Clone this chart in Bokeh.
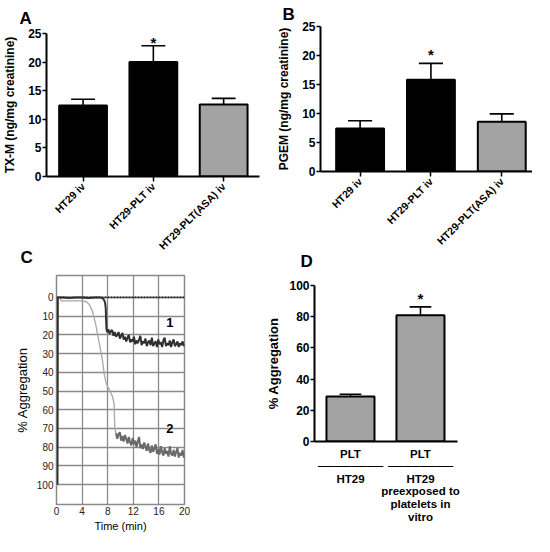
import math
from bokeh.plotting import figure
from bokeh.layouts import column, row
from bokeh.models import Range1d, FixedTicker
from bokeh.core.properties import value
from bokeh.embed import file_html
from bokeh.resources import INLINE

FONT = "Liberation Sans"

# ---------------- data ----------------
ab_categories = ["HT29 iv", "HT29-PLT iv", "HT29-PLT(ASA) iv"]
ab_colors = ["black", "black", "#a3a3a3"]

a_values = [12.4, 20.0, 12.6]          # TX-M, ng/mg creatinine
a_upper = [13.5, 22.85, 13.65]         # top of SEM bar
a_ticks = [0, 5, 10, 15, 20, 25]

b_values = [7.43, 15.84, 8.58]         # PGEM, ng/mg creatinine
b_upper = [8.76, 18.65, 9.93]
b_ticks = [0, 5, 10, 15, 20, 25]

d_values = [28.8, 81.0]                # % aggregation
d_upper = [30.3, 86.3]
d_categories = ["PLT\n────────\nHT29",
                "PLT\n────────\nHT29\npreexposed to\nplatelets in\nvitro"]
d_ticks = [0, 20, 40, 60, 80, 100]

# aggregation traces (panel C): time in min, % aggregation
c_base_t = [0, 20]
c_base_y = [0, 0]

c1_lead_t = [0.15, 0.2, 1.0, 2.0, 3.0, 4.0, 5.0, 6.0, 6.8, 7.2, 7.45, 7.6, 7.7, 7.75, 7.8]
c1_lead_y = [100, 0, 0, 0.3, 0, 0, 0.3, 0, 0, 0.5, 1.5, 3, 6, 12, 16.5]
c1_noise_t = [7.9, 8.1, 8.3, 8.5, 8.7, 8.9, 9.1, 9.3, 9.5, 9.7,
              9.9, 10.1, 10.3, 10.5, 10.7, 10.9, 11.1, 11.3, 11.5, 11.7,
              11.9, 12.1, 12.3, 12.5, 12.7, 12.9, 13.1, 13.3, 13.5, 13.7,
              13.9, 14.1, 14.3, 14.5, 14.7, 14.9, 15.1, 15.3, 15.5, 15.7,
              15.9, 16.1, 16.3, 16.5, 16.7, 16.9, 17.1, 17.3, 17.5, 17.7,
              17.9, 18.1, 18.3, 18.5, 18.7, 18.9, 19.1, 19.3, 19.5, 19.7,
              19.9, 20.0]
c1_noise_y = [18.5, 17.0, 19.5, 18.0, 17.5, 20.5, 18.5, 21.0, 20.0, 18.5,
              22.0, 20.5, 19.0, 22.5, 21.0, 23.5, 21.5, 20.0, 24.0, 22.5,
              23.5, 21.0, 25.0, 23.0, 24.5, 22.5, 20.5, 25.5, 23.5, 24.5,
              22.0, 26.0, 24.0, 23.0, 25.5, 21.5, 26.0, 24.5, 23.5, 26.5,
              22.5, 25.0, 24.0, 26.5, 23.0, 21.5, 26.0, 24.5, 25.5, 23.0,
              26.5, 24.0, 22.5, 26.0, 25.0, 23.5, 26.5, 24.5, 25.5, 23.5,
              26.0, 25.0]

c2a_t = [0.15, 0.22, 0.6, 0.7, 2.0, 3.0, 4.0, 4.6, 5.1, 5.6, 6.1, 6.6, 7.0, 7.2, 7.45, 7.7,
         7.97, 8.3, 8.5, 8.7, 8.86, 9.0, 9.05, 9.1, 9.25, 9.3]
c2a_y = [100, 0, 0, 1.8, 1.8, 1.8, 1.8, 2.2, 3.6, 7.2, 14.0, 23.0, 30.0, 34.0, 41.0, 45.0,
         47.5, 49.5, 51.0, 52.5, 54.5, 57.0, 63.0, 69.5, 72.5, 72.5]

c2b_t = [9.3, 9.5, 9.7, 9.9, 10.1, 10.3, 10.5, 10.7, 10.9, 11.1,
         11.3, 11.5, 11.7, 11.9, 12.1, 12.3, 12.5, 12.7, 12.9, 13.1,
         13.3, 13.5, 13.7, 13.9, 14.1, 14.3, 14.5, 14.7, 14.9, 15.1,
         15.3, 15.5, 15.7, 15.9, 16.1, 16.3, 16.5, 16.7, 16.9, 17.1,
         17.3, 17.5, 17.7, 17.9, 18.1, 18.3, 18.5, 18.7, 18.9, 19.1,
         19.3, 19.5, 19.7, 19.9, 20.0]
c2b_y = [72.5, 75.5, 73.0, 72.0, 76.5, 74.0, 77.0, 73.5, 75.5, 78.0,
         74.5, 77.5, 79.0, 75.0, 78.5, 76.5, 80.0, 77.0, 74.5, 80.5,
         78.5, 81.0, 77.5, 79.5, 82.0, 78.0, 81.5, 83.0, 79.0, 82.5,
         80.5, 78.5, 83.5, 81.0, 84.0, 79.5, 82.5, 84.5, 80.5, 83.5,
         82.0, 85.0, 79.5, 83.5, 84.5, 81.5, 85.0, 82.5, 80.5, 85.5,
         83.0, 84.5, 81.5, 85.5, 84.0]
c_trace_labels = ["1", "2"]
c_trace_label_t = [17.7, 17.7]
c_trace_label_y = [13.2, 70.2]
c_xticks = [0, 4, 8, 12, 16, 20]
c_yticks = [0, 10, 20, 30, 40, 50, 60, 70, 80, 90, 100]


def style_text(axis, size, bold=True):
    axis.major_label_text_font = FONT
    axis.major_label_text_font_size = size
    axis.major_label_text_font_style = "bold" if bold else "normal"
    axis.major_label_text_color = "black"
    axis.axis_label_text_font = FONT
    axis.axis_label_text_font_style = "bold" if bold else "normal"
    axis.axis_label_text_color = "black"


def base_fig(width, height, left, right, top, bottom, xr, yr):
    p = figure(width=width, height=height, x_range=xr, y_range=yr,
               output_backend="svg", toolbar_location=None,
               min_border_left=left, min_border_right=right,
               min_border_top=top, min_border_bottom=bottom)
    p.frame_align = False
    p.background_fill_color = "white"
    p.border_fill_color = None
    return p


def panel_letter(p, text, offset, standoff):
    p.title.text = text
    p.title.align = "left"
    p.title.offset = offset
    p.title.standoff = standoff
    p.title.text_font = FONT
    p.title.text_font_size = "17px"
    p.title.text_font_style = "bold"
    p.title.text_color = "black"


def bar_panel(width, height, left, right, top, bottom, xr, ymax, values, upper, ticks,
              ylabel, bar_w, cap_w, star_off):
    p = base_fig(width, height, left, right, top, bottom, Range1d(*xr), Range1d(0, ymax))
    xs = list(range(len(values)))
    p.vbar(x=xs, top=values, width=bar_w, fill_color=ab_colors, line_color="black",
           line_width=2)
    p.segment(x0=xs, y0=values, x1=xs, y1=upper, line_color="black", line_width=1.6)
    p.segment(x0=[x - cap_w for x in xs], y0=upper, x1=[x + cap_w for x in xs], y1=upper,
              line_color="black", line_width=1.6)
    p.text(x=[1], y=[upper[1] + star_off], text=["*"], text_font=value(FONT),
           text_font_style="bold", text_font_size="15px", text_align="center",
           text_baseline="middle", text_color="black")
    p.xgrid.visible = False
    p.ygrid.visible = False
    p.outline_line_color = None
    p.xaxis.ticker = FixedTicker(ticks=xs)
    p.xaxis.major_label_overrides = {i: c for i, c in enumerate(ab_categories)}
    p.xaxis.major_label_orientation = math.pi / 4
    p.xaxis.major_tick_out = 5
    p.xaxis.major_tick_in = 0
    p.xaxis.major_tick_line_width = 1.5
    p.xaxis.axis_line_width = 2
    p.xaxis.major_label_standoff = 3
    style_text(p.xaxis, "10.5px")
    p.yaxis.ticker = FixedTicker(ticks=ticks)
    p.yaxis.major_tick_out = 4
    p.yaxis.major_tick_in = 0
    p.yaxis.major_tick_line_width = 1.5
    p.yaxis.axis_line_width = 2
    p.yaxis.major_label_standoff = 1
    p.yaxis.axis_label = ylabel
    p.yaxis.axis_label_standoff = 8
    style_text(p.yaxis, "12px")
    p.yaxis.axis_label_text_font_size = "12px"
    return p


# ---------------- panel A ----------------
# frame: page x 49..267, y 41..184 ; bar centres 72 px apart
pA = bar_panel(274, 270, 41, 15, 33, 94, (-0.52, 2.51), 25, a_values, a_upper, a_ticks,
               "TX-M (ng/mg creatinine)", 0.68, 0.17, 0.55)
panel_letter(pA, "A", -27, 12)

# ---------------- panel B ----------------
# frame: page x 323..540, y 34..179 ; bar centres 72.5 px apart
pB = bar_panel(258, 270, 41, 0, 26, 99, (-0.559, 2.434), 25, b_values, b_upper, b_ticks,
               "PGEM (ng/mg creatinine)", 0.676, 0.17, 1.55)
panel_letter(pB, "B", -38, 5)

# ---------------- panel C ----------------
# bottom row starts at page y 236; frame: page x 64..192, y 283..513
pC = base_fig(262, 306, 56, 78, 47, 29, Range1d(0, 20), Range1d(110.6, -11.7))
panel_letter(pC, "C", -36, 17)
pC.xgrid.ticker = FixedTicker(ticks=c_xticks)
pC.ygrid.ticker = FixedTicker(ticks=c_yticks)
for g in (pC.xgrid, pC.ygrid):
    g.grid_line_color = "#8a8a8a"
    g.grid_line_width = 1.3
    g.grid_line_alpha = 1
pC.outline_line_color = "#8a8a8a"
pC.outline_line_width = 1.5
pC.line(c_base_t, c_base_y, line_color="#222222", line_width=1.6, line_dash="2 1")
pC.line(c2a_t, c2a_y, line_color="#a8a8a8", line_width=1.3)
pC.line(c2b_t, c2b_y, line_color="#6a6a6a", line_width=2.0)
pC.line(c1_lead_t + c1_noise_t, c1_lead_y + c1_noise_y, line_color="#303030", line_width=2.0)
pC.text(x=c_trace_label_t, y=c_trace_label_y, text=c_trace_labels, text_font=value(FONT),
        text_font_style="bold", text_font_size="13px", text_align="center",
        text_baseline="middle", text_color="black")
pC.xaxis.ticker = FixedTicker(ticks=c_xticks)
pC.yaxis.ticker = FixedTicker(ticks=c_yticks)
for ax in (pC.xaxis, pC.yaxis):
    ax.axis_line_color = None
    ax.major_tick_line_color = None
    ax.minor_tick_line_color = None
    ax.major_tick_out = 0
    ax.major_tick_in = 0
    style_text(ax, "10px", bold=False)
    ax.major_label_text_color = "#222222"
pC.xaxis.major_label_standoff = 2
pC.yaxis.major_label_standoff = 3
pC.xaxis.axis_label = "Time (min)"
pC.xaxis.axis_label_text_font_size = "11px"
pC.xaxis.axis_label_standoff = 2
pC.yaxis.axis_label = "% Aggregation"
pC.yaxis.axis_label_text_font_size = "13px"
pC.yaxis.axis_label_standoff = 4

# ---------------- panel D ----------------
# frame: page x 322..465, y 293..449 ; bar centres 70 px apart
dys = 1.56
pD = base_fig(270, 306, 52, 75, 57, 93, Range1d(-0.514, 1.529), Range1d(0, 100))
panel_letter(pD, "D", -14, 29)
d_x = list(range(len(d_values)))
pD.vbar(x=d_x, top=d_values, width=0.686, fill_color="#a3a3a3", line_color="black",
        line_width=2)
pD.segment(x0=d_x, y0=d_values, x1=d_x, y1=d_upper, line_color="black", line_width=1.6)
pD.segment(x0=[x - 0.155 for x in d_x], y0=d_upper, x1=[x + 0.155 for x in d_x], y1=d_upper,
           line_color="black", line_width=1.6)
pD.text(x=[1], y=[d_upper[1] + 8.5 / dys], text=["*"], text_font=value(FONT),
        text_font_style="bold", text_font_size="15px", text_align="center",
        text_baseline="middle", text_color="black")
pD.xgrid.visible = False
pD.ygrid.visible = False
pD.outline_line_color = None
pD.xaxis.ticker = FixedTicker(ticks=d_x)
pD.xaxis.major_label_overrides = {i: c for i, c in enumerate(d_categories)}
pD.xaxis.axis_line_width = 2
pD.xaxis.major_tick_out = 0
pD.xaxis.major_tick_in = 0
pD.xaxis.major_tick_line_color = None
pD.xaxis.major_label_standoff = 6
style_text(pD.xaxis, "11.5px")
pD.xaxis.major_label_text_line_height = 1.05
pD.yaxis.ticker = FixedTicker(ticks=d_ticks)
pD.yaxis.major_tick_out = 4
pD.yaxis.major_tick_in = 0
pD.yaxis.major_tick_line_width = 1.5
pD.yaxis.axis_line_width = 2
pD.yaxis.major_label_standoff = 1
pD.yaxis.axis_label = "% Aggregation"
pD.yaxis.axis_label_standoff = 5
style_text(pD.yaxis, "12px")
pD.yaxis.axis_label_text_font_size = "13px"

layout = column(row(pA, pB), row(pC, pD, margin=(-42, 0, 0, 0)))
open("out.html", "w").write(file_html(layout, INLINE))
